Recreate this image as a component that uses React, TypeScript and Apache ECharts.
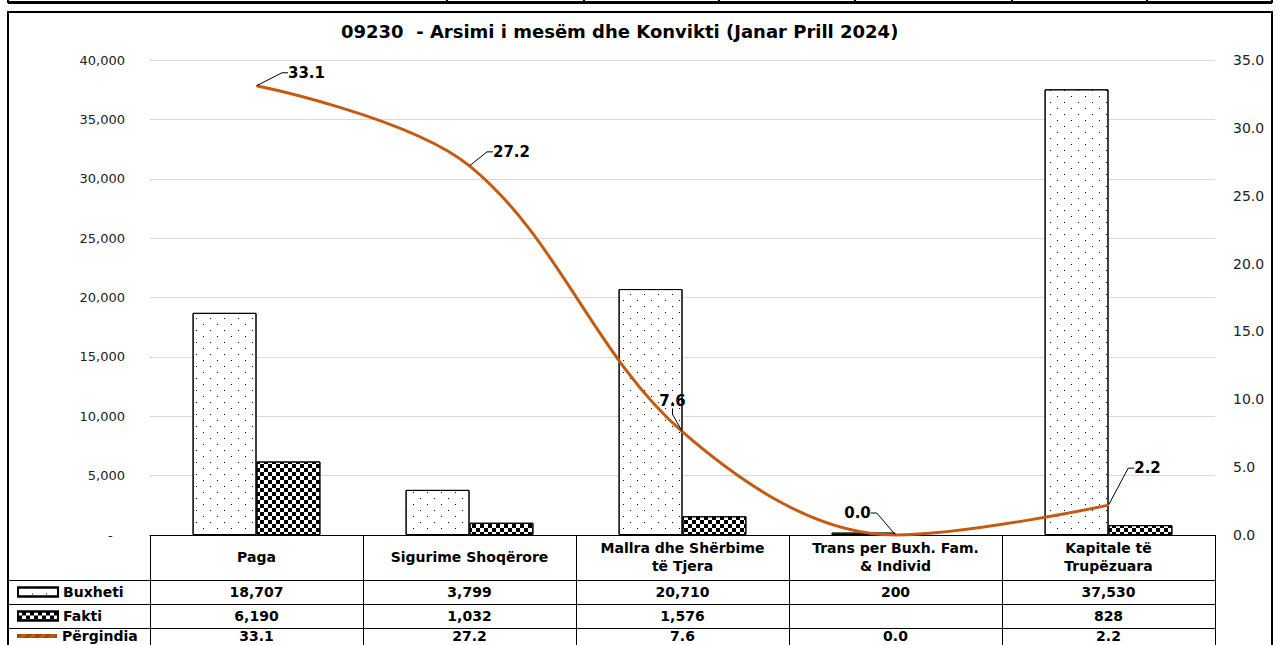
import React, { useEffect, useRef } from 'react';
import * as echarts from 'echarts';

const titleText = '09230  - Arsimi i mesëm dhe Konvikti (Janar Prill 2024)';
const categories = [
  'Paga',
  'Sigurime Shoqërore',
  'Mallra dhe Shërbime\ntë Tjera',
  'Trans per Buxh. Fam.\n& Individ',
  'Kapitale të\nTrupëzuara',
];
const seriesNames = ['Buxheti', 'Fakti', 'Përgindia'];
const buxheti = [18707, 3799, 20710, 200, 37530];
const fakti: (number | null)[] = [6190, 1032, 1576, null, 828];
const perqindja = [33.1, 27.2, 7.6, 0.0, 2.2];
const leftAxisMax = 40000;
const leftAxisStep = 5000;
const rightAxisMax = 35;
const rightAxisStep = 5;

// label placement (style only)
const labelOffsets = [
  [50, -13],
  [42, -14],
  [-10, -31],
  [-38, -22],
  [39, -37],
];

const FONT = 'DejaVu Sans';
const ORANGE = '#C55A11';

const fmtInt = (v: number | null) => (v === null || v === undefined ? '' : v.toLocaleString('en-US'));
const fmt1 = (v: number) => v.toFixed(1);

// layout
const GRID_L = 150;
const GRID_R = 1215;
const GRID_T = 60;
const GRID_B = 535;
const ROW_LINES = [580, 604, 628];
const ROW_CENTERS = [592, 616, 636];
const HEADER_CENTER = 557;

export default function App() {
  const ref = useRef<HTMLDivElement>(null);
  useEffect(() => {
    if (!ref.current) return;
    const chart = echarts.init(ref.current, null, { renderer: 'svg' });

    const colW = (GRID_R - GRID_L) / categories.length;
    const graphics: any[] = [];
    // top strip (cut table from page above)
    graphics.push({ type: 'line', shape: { x1: 8, y1: 2.5, x2: 1272, y2: 2.5 }, style: { stroke: '#000', lineWidth: 3 } });
    [8, 447, 584, 719, 855, 1012, 1147, 1272].forEach((x) =>
      graphics.push({ type: 'line', shape: { x1: x, y1: 0, x2: x, y2: 3 }, style: { stroke: '#000', lineWidth: 2 } })
    );
    // outer border
    graphics.push({ type: 'rect', shape: { x: 8, y: 12, width: 1264, height: 700 }, style: { fill: 'none', stroke: '#000', lineWidth: 2 } });
    // table lines
    for (let i = 0; i <= categories.length; i++) {
      const x = Math.round(GRID_L + i * colW) + 0.5;
      graphics.push({ type: 'line', shape: { x1: x, y1: GRID_B, x2: x, y2: 660 }, style: { stroke: '#000', lineWidth: 1 } });
    }
    ROW_LINES.forEach((y) =>
      graphics.push({ type: 'line', shape: { x1: 8, y1: y + 0.5, x2: GRID_R, y2: y + 0.5 }, style: { stroke: '#000', lineWidth: 1 } })
    );

    const tableAxis = (data: string[], margin: number) => ({
      type: 'category',
      data,
      position: 'bottom',
      axisLine: { show: false },
      axisTick: { show: false },
      splitLine: { show: false },
      axisLabel: {
        interval: 0,
        margin,
        verticalAlign: 'middle',
        lineHeight: 18,
        fontFamily: FONT,
        fontWeight: 'bold',
        fontSize: 14,
        color: '#000',
      },
    });

    const headerAxis: any = tableAxis(categories, HEADER_CENTER - GRID_B);
    headerAxis.axisLine = { show: true, lineStyle: { color: '#000', width: 1 } };

    const dotDecal = {
      symbol: 'rect',
      symbolSize: 1,
      color: '#000',
      dashArrayX: [[1, 13], [0, 7, 1, 6]],
      dashArrayY: [1, 5],
      rotation: 0,
    };
    const checkDecal = {
      symbol: 'rect',
      symbolSize: 1,
      color: '#000',
      dashArrayX: [[4, 4], [0, 4, 4, 0]],
      dashArrayY: [4, 0],
      rotation: 0,
    };

    const legendBase = (name: string, top: number, h: number, icon?: string) => ({
      orient: 'vertical',
      left: 12,
      top,
      itemWidth: 40,
      itemHeight: h,
      selectedMode: false,
      data: [icon ? { name, icon } : { name }],
      textStyle: { fontFamily: FONT, fontWeight: 'bold', fontSize: 14, color: '#000' },
    });

    const option: any = {
      animation: false,
      aria: { enabled: true, decal: { show: true } },
      backgroundColor: '#fff',
      title: {
        text: titleText,
        left: 336,
        top: 17,
        textStyle: { fontFamily: FONT, fontWeight: 'bold', fontSize: 18, color: '#000' },
      },
      legend: [
        legendBase(seriesNames[0], ROW_CENTERS[0] - 12, 9, 'rect'),
        legendBase(seriesNames[1], ROW_CENTERS[1] - 12, 9, 'rect'),
        legendBase(seriesNames[2], ROW_CENTERS[2] - 12, 4, 'rect'),
      ],
      grid: {
        left: GRID_L,
        right: 1280 - GRID_R,
        top: GRID_T,
        bottom: 645 - GRID_B,
        containLabel: false,
        outerBoundsMode: 'none',
      },
      xAxis: [
        headerAxis,
        tableAxis(buxheti.map(fmtInt), ROW_CENTERS[0] - GRID_B),
        tableAxis(fakti.map(fmtInt), ROW_CENTERS[1] - GRID_B),
        tableAxis(perqindja.map(fmt1), ROW_CENTERS[2] - GRID_B),
      ],
      yAxis: [
        {
          type: 'value',
          min: 0,
          max: leftAxisMax,
          interval: leftAxisStep,
          position: 'left',
          axisLine: { show: false },
          axisTick: { show: false },
          splitLine: { lineStyle: { color: '#d9d9d9', width: 1 } },
          axisLabel: {
            margin: 25,
            fontFamily: FONT,
            fontSize: 13,
            color: '#222',
            formatter: (v: number) => (v === 0 ? '-\u00a0\u00a0\u00a0' : fmtInt(v)),
          },
        },
        {
          type: 'value',
          min: 0,
          max: rightAxisMax,
          interval: rightAxisStep,
          position: 'right',
          axisLine: { show: false },
          axisTick: { show: false },
          splitLine: { show: false },
          axisLabel: {
            margin: 18,
            fontFamily: FONT,
            fontSize: 14,
            color: '#222',
            formatter: (v: number) => fmt1(v),
          },
        },
      ],
      series: [
        {
          name: seriesNames[0],
          type: 'bar',
          xAxisIndex: 0,
          yAxisIndex: 0,
          data: buxheti,
          barWidth: '30%',
          barGap: '0%',
          itemStyle: { color: '#fff', borderColor: '#000', borderWidth: 1, decal: dotDecal },
        },
        {
          name: seriesNames[1],
          type: 'bar',
          xAxisIndex: 0,
          yAxisIndex: 0,
          data: fakti,
          barWidth: '30%',
          barGap: '0%',
          itemStyle: { color: '#fff', borderColor: '#000', borderWidth: 1, decal: checkDecal },
        },
        {
          name: seriesNames[2],
          type: 'line',
          xAxisIndex: 0,
          yAxisIndex: 1,
          data: perqindja,
          smooth: 0.35,
          clip: false,
          symbol: 'circle',
          symbolSize: 1,
          showSymbol: true,
          lineStyle: { color: ORANGE, width: 3 },
          itemStyle: { color: ORANGE },
          label: {
            show: true,
            position: 'inside',
            fontFamily: FONT,
            fontWeight: 'bold',
            fontSize: 15,
            color: '#000',
            formatter: (p: any) => fmt1(p.value),
          },
          labelLayout: (p: any) => ({ dx: labelOffsets[p.dataIndex][0], dy: labelOffsets[p.dataIndex][1] }),
          labelLine: { show: true, length2: 6, lineStyle: { color: '#000', width: 1 } },
          z: 5,
        },
      ],
      graphic: graphics,
    };

    chart.setOption(option);
    return () => chart.dispose();
  }, []);

  return (
    <div
      ref={ref}
      style={{ position: 'absolute', left: 0, top: 0, width: 1280, height: 645, background: '#fff' }}
    />
  );
}
